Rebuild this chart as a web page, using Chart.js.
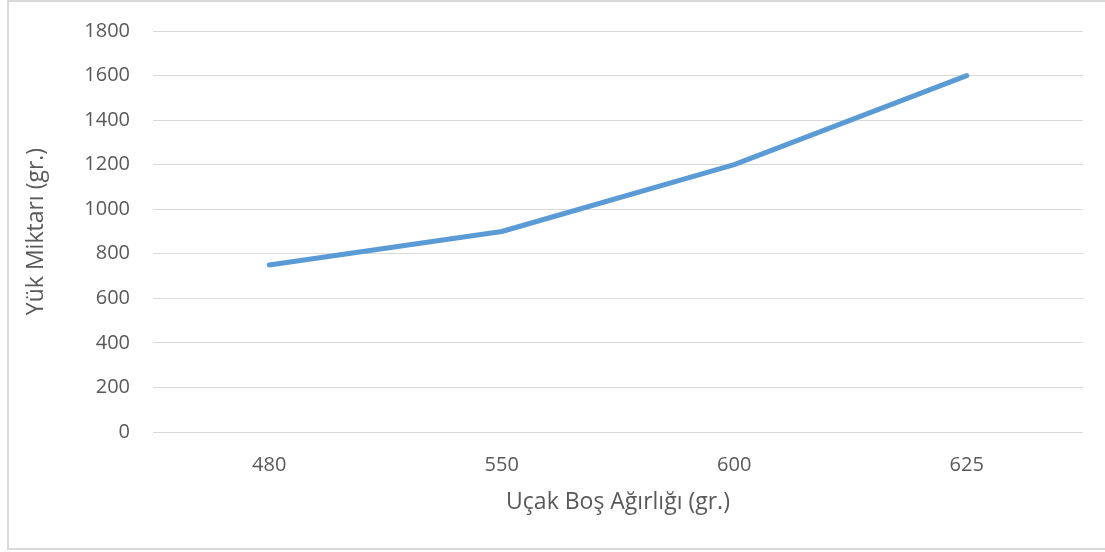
<!DOCTYPE html>
<html lang="tr">

<head>
    <meta charset="UTF-8">
    <meta name="viewport" content="width=device-width, initial-scale=1.0">
    <title>Yük Miktarı</title>
    <style>
        body { margin: 0; background: #fff; }
        #wrap {
            position: absolute;
            left: 7px;
            top: 0;
            width: 1100px;
            height: 546px;
            border: 2px solid #d9d9d9;
        }
    </style>
</head>

<script src="https://cdn.jsdelivr.net/npm/chart.js"></script>

<body>
    <div id="wrap">
        <canvas id="myChart" width="1100" height="546"></canvas>
    </div>
</body>

<script>
    const weights = ['480', '550', '600', '625']
    const loads = [750, 900, 1200, 1600]
    const yMin = 0
    const yMax = 1800
    const yStep = 200

    const textColor = '#595959'
    const fontFamily = '"Open Sans", sans-serif'

    const ctx = document.getElementById('myChart');

    const data = {
        labels: weights,
        datasets: [{
            label: 'Yük Miktarı',
            data: loads,
            fill: false,
            borderColor: '#5b9bd5',
            borderWidth: 5,
            borderCapStyle: 'round',
            borderJoinStyle: 'round',
            pointRadius: 0,
            tension: 0
        }]
    };

    const config = {
        type: 'line',
        data: data,
        options: {
            responsive: false,
            animation: false,
            layout: {
                padding: { left: 0, right: 26, top: 29, bottom: 0 }
            },
            plugins: {
                legend: { display: false },
                tooltip: { enabled: false }
            },
            scales: {
                x: {
                    offset: true,
                    grid: { display: false, drawTicks: false },
                    border: { display: false },
                    ticks: {
                        color: textColor,
                        padding: 21,
                        font: { family: fontFamily, size: 20 }
                    },
                    title: {
                        display: true,
                        text: 'Uçak Boş Ağırlığı (gr.)',
                        color: textColor,
                        padding: { top: 0, bottom: 32 },
                        font: { family: fontFamily, size: 23 }
                    },
                    afterFit: (scale) => {
                        scale.height = 116
                        scale.paddingLeft = 0
                        scale.paddingRight = 0
                    }
                },
                y: {
                    min: yMin,
                    max: yMax,
                    grid: { color: '#d9d9d9', lineWidth: 1, drawTicks: false },
                    border: { display: false },
                    ticks: {
                        stepSize: yStep,
                        color: textColor,
                        padding: 23,
                        font: { family: fontFamily, size: 20 },
                        // plain numbers, no thousands separator
                        callback: (value) => String(value)
                    },
                    title: {
                        display: true,
                        text: 'Yük Miktarı (gr.)',
                        color: textColor,
                        padding: { top: 14, bottom: 0 },
                        font: { family: fontFamily, size: 23 }
                    },
                    afterFit: (scale) => {
                        scale.width = 144
                        scale.paddingTop = 0
                        scale.paddingBottom = 0
                    }
                }
            }
        }
    };
    window.load_chart = new Chart(ctx, config)
</script>

</html>
